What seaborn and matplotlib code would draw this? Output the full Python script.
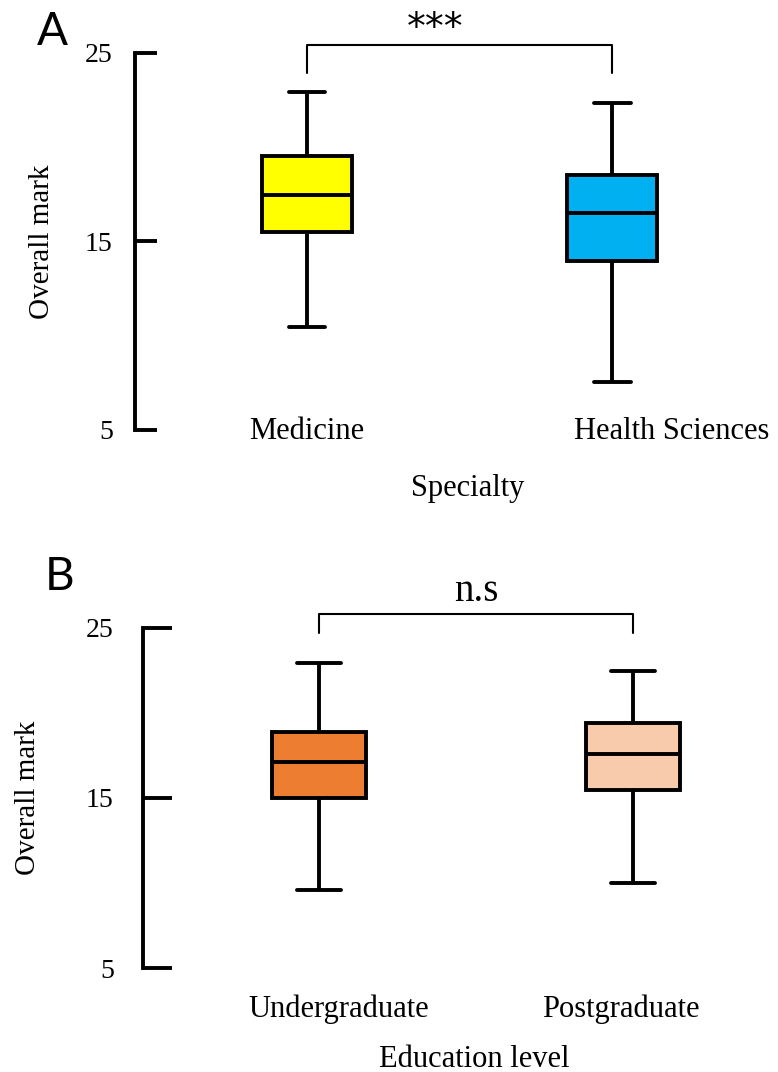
import pandas as pd
import matplotlib
matplotlib.use("Agg")
import matplotlib.pyplot as plt
import seaborn as sns

# five-number summaries: min, Q1, median, Q3, max
specialty = ["Medicine", "Health Sciences"]
medicine_marks = [10.45, 15.48, 17.49, 19.55, 22.94]
health_marks = [7.54, 13.94, 16.53, 18.54, 22.35]
specialty_colors = ["#FFFF00", "#00B0F0"]

education = ["Undergraduate", "Postgraduate"]
undergrad_marks = [9.59, 15.0, 17.12, 18.88, 22.94]
postgrad_marks = [10.0, 15.47, 17.59, 19.41, 22.47]
education_colors = ["#ED7D31", "#F8CBAD"]

y_ticks = [5, 15, 25]
sig_a = "***"
sig_b = "n.s"
# bracket (leg bottom, bar height) and label height, in mark units
bracket_a = (23.94, 25.42, 26.25)
bracket_b = (24.7, 25.82, 27.15)
# the category labels are not quite centred under the boxes
label_shift_a = [0.0, 0.195]
label_shift_b = [0.064, -0.038]


def make_frame(groups, first, second, col):
    return pd.DataFrame({
        col: [groups[0]] * len(first) + [groups[1]] * len(second),
        "mark": first + second,
    })


def draw_panel(ax, df, col, groups, colors, box_w, cap_w, tick_len, tick_pad,
               cat_pad, shifts, bracket, sig, sig_size, sig_x, sig_font):
    # whis=(0, 100) -> whiskers at min/max, quartiles from the 5 numbers
    sns.boxplot(data=df, x=col, y="mark", hue=col, order=groups,
                hue_order=groups, palette=colors, saturation=1,
                whis=(0, 100), width=box_w, capwidths=cap_w,
                linewidth=2.8, linecolor="black", legend=False, ax=ax)

    ax.set_ylim(5, 25)
    ax.set_yticks(y_ticks)
    for s in ["top", "right", "bottom"]:
        ax.spines[s].set_visible(False)
    ax.spines["left"].set_linewidth(2.8)
    ax.spines["left"].set_color("black")
    ax.tick_params(axis="y", left=True, direction="in", length=tick_len,
                   width=2.8, pad=tick_pad, labelsize=20, colors="black")
    ax.set_xticks([i + d for i, d in enumerate(shifts)], groups)
    ax.tick_params(axis="x", bottom=False, length=0, pad=cat_pad,
                   labelsize=22, colors="black")
    ax.set_ylabel("Overall mark", fontsize=21)

    # significance bracket
    lo, hi, txt_y = bracket
    ax.plot([0, 0, 1, 1], [lo, hi, hi, lo], color="black", lw=1.5,
            clip_on=False)
    ax.text(sig_x, txt_y, sig, ha="center", va="center", fontsize=sig_size,
            family=sig_font, color="black", clip_on=False)


sns.set_theme(style="white")
plt.rcParams["font.family"] = ["Liberation Serif", "DejaVu Serif"]
plt.rcParams["text.color"] = "black"
plt.rcParams["axes.labelcolor"] = "black"

fig = plt.figure(figsize=(7.78, 10.72), dpi=100)

# Panel A - Specialty
ax1 = fig.add_axes([0.1735, 0.5989, 0.8265, 0.3517])
df_a = make_frame(specialty, medicine_marks, health_marks, "Specialty")
draw_panel(ax1, df_a, "Specialty", specialty, specialty_colors,
           box_w=0.295, cap_w=0.121, tick_len=16, tick_pad=16,
           cat_pad=-9, shifts=label_shift_a, bracket=bracket_a, sig=sig_a,
           sig_size=27, sig_x=0.42, sig_font="DejaVu Sans")
ax1.set_xlim(-0.564, 1.544)
ax1.set_xlabel("Specialty", fontsize=22)
ax1.xaxis.set_label_coords(0.518, -0.156)
ax1.xaxis.label.set_va("center")
ax1.yaxis.set_label_coords(-0.145, 0.5)
ax1.yaxis.label.set_va("center")

# Panel B - Education level
ax2 = fig.add_axes([0.1838, 0.0970, 0.8162, 0.3172])
df_b = make_frame(education, undergrad_marks, postgrad_marks, "Education")
draw_panel(ax2, df_b, "Education", education, education_colors,
           box_w=0.30, cap_w=0.14, tick_len=21, tick_pad=21,
           cat_pad=19, shifts=label_shift_b, bracket=bracket_b, sig=sig_b,
           sig_size=28, sig_x=0.5, sig_font="Liberation Serif")
ax2.set_xlim(-0.5605, 1.4618)
ax2.set_xlabel("Education level", fontsize=22)
ax2.xaxis.set_label_coords(0.521, -0.268)
ax2.xaxis.label.set_va("center")
ax2.yaxis.set_label_coords(-0.181, 0.5)
ax2.yaxis.label.set_va("center")

# panel letters
fig.text(37 / 778, 1 - 45 / 1072, "A", fontsize=33, family="Lato")
fig.text(45 / 778, 1 - 590 / 1072, "B", fontsize=33, family="Lato")

fig.savefig("out.png", dpi=100)
